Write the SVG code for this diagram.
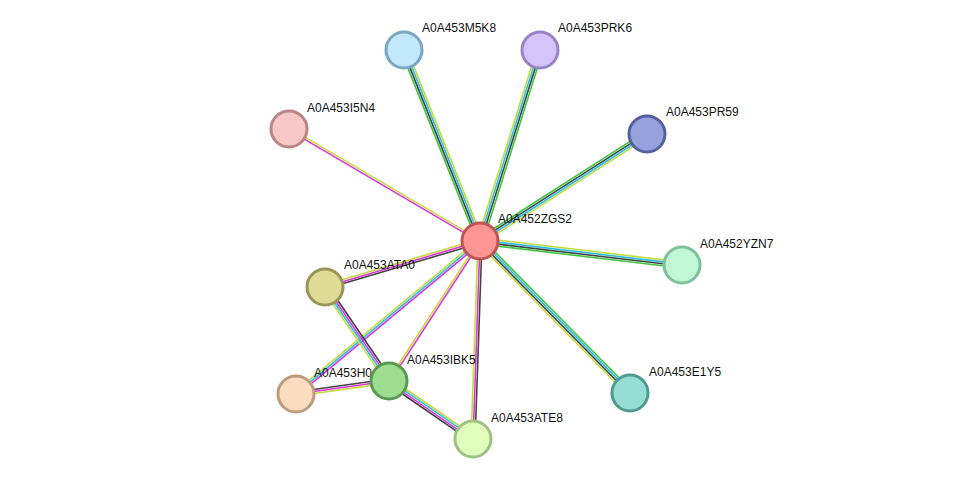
<svg xmlns="http://www.w3.org/2000/svg" width="975" height="485" viewBox="0 0 975 485">
<style>
line{stroke-width:1.6;fill:none}
.g{stroke:#3ec73e}.k{stroke:#444}.b{stroke:#2bbde8}.y{stroke:#c3dc3a}.m{stroke:#e033e0}
circle{stroke-width:3}
text{font-family:"Liberation Sans",Arial,sans-serif;font-size:12px;fill:#111}
</style>
<rect width="975" height="485" fill="#fff"/>
<g id="connectors">
<g transform="translate(480,241) rotate(-111.7)"><line class="g" x1="0" y1="-3" x2="205.6" y2="-3"/><line class="k" x1="0" y1="-1" x2="205.6" y2="-1"/><line class="b" x1="0" y1="1" x2="205.6" y2="1"/><line class="y" x1="0" y1="3" x2="205.6" y2="3"/></g>
<g transform="translate(480,241) rotate(-72.6)"><line class="y" x1="0" y1="-3" x2="200.2" y2="-3"/><line class="b" x1="0" y1="-1" x2="200.2" y2="-1"/><line class="k" x1="0" y1="1" x2="200.2" y2="1"/><line class="g" x1="0" y1="3" x2="200.2" y2="3"/></g>
<g transform="translate(480,241) rotate(-32.6)"><line class="g" x1="0" y1="-3" x2="198.3" y2="-3"/><line class="k" x1="0" y1="-1" x2="198.3" y2="-1"/><line class="b" x1="0" y1="1" x2="198.3" y2="1"/><line class="y" x1="0" y1="3" x2="198.3" y2="3"/></g>
<g transform="translate(480,241) rotate(-149.6)"><line class="m" x1="0" y1="-1" x2="221.4" y2="-1"/><line class="y" x1="0" y1="1" x2="221.4" y2="1"/></g>
<g transform="translate(480,241) rotate(6.8)"><line class="y" x1="0" y1="-3" x2="203.4" y2="-3"/><line class="b" x1="0" y1="-1" x2="203.4" y2="-1"/><line class="k" x1="0" y1="1" x2="203.4" y2="1"/><line class="g" x1="0" y1="3" x2="203.4" y2="3"/></g>
<g transform="translate(480,241) rotate(45.4)"><line class="g" x1="0" y1="-3" x2="213.6" y2="-3"/><line class="b" x1="0" y1="-1" x2="213.6" y2="-1"/><line class="k" x1="0" y1="1" x2="213.6" y2="1"/><line class="y" x1="0" y1="3" x2="213.6" y2="3"/></g>
<g transform="translate(480,241) rotate(163.5)"><line class="k" x1="0" y1="-2" x2="161.7" y2="-2"/><line class="m" x1="0" y1="0" x2="161.7" y2="0"/><line class="y" x1="0" y1="2" x2="161.7" y2="2"/></g>
<g transform="translate(480,241) rotate(140.3)"><line class="m" x1="0" y1="-2" x2="239.3" y2="-2"/><line class="b" x1="0" y1="0" x2="239.3" y2="0"/><line class="y" x1="0" y1="2" x2="239.3" y2="2"/></g>
<g transform="translate(480,241) rotate(123)"><line class="m" x1="0" y1="-1" x2="167" y2="-1"/><line class="y" x1="0" y1="1" x2="167" y2="1"/></g>
<g transform="translate(480,241) rotate(92)"><line class="k" x1="0" y1="-2" x2="198.1" y2="-2"/><line class="m" x1="0" y1="0" x2="198.1" y2="0"/><line class="y" x1="0" y1="2" x2="198.1" y2="2"/></g>
<g transform="translate(325,287) rotate(55.7)"><line class="k" x1="0" y1="-3" x2="113.7" y2="-3"/><line class="m" x1="0" y1="-1" x2="113.7" y2="-1"/><line class="b" x1="0" y1="1" x2="113.7" y2="1"/><line class="y" x1="0" y1="3" x2="113.7" y2="3"/></g>
<g transform="translate(296,394) rotate(-8)"><line class="k" x1="0" y1="-2" x2="93.9" y2="-2"/><line class="m" x1="0" y1="0" x2="93.9" y2="0"/><line class="y" x1="0" y1="2" x2="93.9" y2="2"/></g>
<g transform="translate(389,381) rotate(34.6)"><line class="y" x1="0" y1="-3" x2="102.1" y2="-3"/><line class="b" x1="0" y1="-1" x2="102.1" y2="-1"/><line class="m" x1="0" y1="1" x2="102.1" y2="1"/><line class="k" x1="0" y1="3" x2="102.1" y2="3"/></g>
</g>
<g id="A0A453M5K8"><circle cx="404" cy="50" r="18" fill="#c2e8fb" stroke="#7ba6c4"/><text x="422" y="32">A0A453M5K8</text></g>
<g id="A0A453PRK6"><circle cx="540" cy="50" r="18" fill="#d5c4fb" stroke="#9a82c8"/><text x="558" y="32">A0A453PRK6</text></g>
<g id="A0A453PR59"><circle cx="647" cy="134" r="18" fill="#97a2dd" stroke="#56609e"/><text x="666" y="116">A0A453PR59</text></g>
<g id="A0A453I5N4"><circle cx="289" cy="129" r="18" fill="#f8c7c7" stroke="#bb8585"/><text x="307" y="112">A0A453I5N4</text></g>
<g id="A0A452YZN7"><circle cx="682" cy="265" r="18" fill="#c2f8d6" stroke="#7fc19a"/><text x="700" y="248">A0A452YZN7</text></g>
<g id="A0A453E1Y5"><circle cx="630" cy="393" r="18" fill="#96ded4" stroke="#4e9a90"/><text x="649" y="376">A0A453E1Y5</text></g>
<g id="A0A453ATA0"><circle cx="325" cy="287" r="18" fill="#dfdb96" stroke="#999557"/><text x="344" y="269">A0A453ATA0</text></g>
<g id="A0A453ATE8"><circle cx="473" cy="439" r="18" fill="#e0fdbd" stroke="#a1c086"/><text x="491" y="422">A0A453ATE8</text></g>
<g id="A0A453H0"><circle cx="296" cy="394" r="18" fill="#fbdcbf" stroke="#bb9c7c"/><text x="314" y="377">A0A453H0</text></g>
<g id="A0A453IBK5"><circle cx="389" cy="381" r="18" fill="#9ddc91" stroke="#5a9a50"/><text x="407" y="364">A0A453IBK5</text></g>
<g id="A0A452ZGS2"><circle cx="480" cy="241" r="18" fill="#fd9595" stroke="#c05555"/><text x="498" y="223">A0A452ZGS2</text></g>
</svg>
